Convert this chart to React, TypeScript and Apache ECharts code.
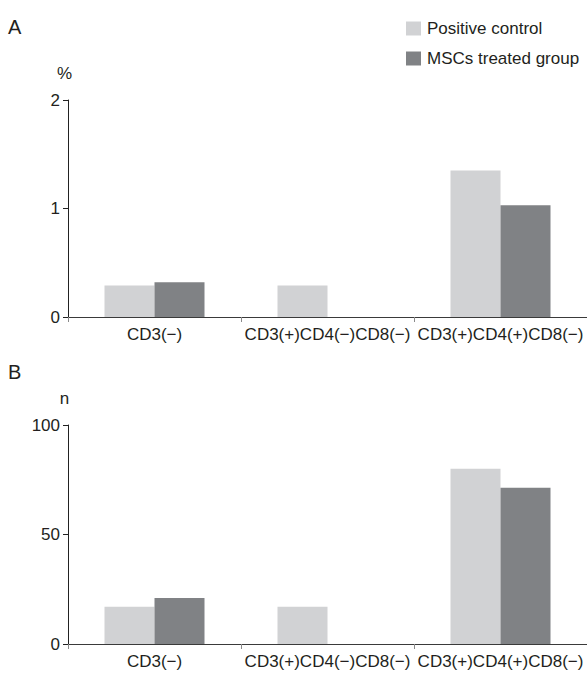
import React, { useEffect, useRef } from "react";
import * as echarts from "echarts";

const categories = ["CD3(−)", "CD3(+)CD4(−)CD8(−)", "CD3(+)CD4(+)CD8(−)"];
const seriesNames = ["Positive control", "MSCs treated group"];
const percentPositive = [0.29, 0.29, 1.35];
const percentMSCs = [0.32, 0, 1.03];
const countPositive = [17, 17, 80];
const countMSCs = [21, 0, 71.4];

const FONT = "Liberation Sans, Arial, Helvetica, sans-serif";
const TEXT = "#231f20";
const LIGHT = "#d1d2d4";
const DARK = "#808285";

export default function App() {
  const ref = useRef<HTMLDivElement>(null);
  useEffect(() => {
    document.body.style.margin = "0";
    if (!ref.current) return;
    const chart = echarts.init(ref.current, null, { renderer: "svg" });
    const xAxisBase = (gridIndex: number) => ({
      type: "category" as const,
      gridIndex,
      data: categories,
      boundaryGap: true,
      axisLine: { lineStyle: { color: "#3a3a3a", width: 1 } },
      axisTick: { show: true, length: 5, lineStyle: { color: "#8a8a8a" } },
      axisLabel: { color: TEXT, fontSize: 17, fontFamily: FONT, margin: 9, interval: 0 },
    });
    const yAxisBase = (gridIndex: number, max: number, interval: number, name: string) => ({
      type: "value" as const,
      gridIndex,
      min: 0,
      max,
      interval,
      name,
      nameLocation: "end" as const,
      nameGap: 18,
      nameTextStyle: { color: TEXT, fontSize: 17, fontFamily: FONT, padding: [0, 7, 0, 0] },
      axisLine: { show: true, lineStyle: { color: "#222", width: 1 } },
      axisTick: { show: true, length: 5, lineStyle: { color: "#222" } },
      axisLabel: { color: TEXT, fontSize: 17, fontFamily: FONT, margin: 8 },
      splitLine: { show: false },
    });
    const barBase = (name: string, color: string, xi: number, yi: number, data: number[]) => ({
      type: "bar" as const,
      name,
      xAxisIndex: xi,
      yAxisIndex: yi,
      data,
      barWidth: 50,
      barGap: "0%",
      itemStyle: { color },
    });
    chart.setOption({
      animation: false,
      textStyle: { fontFamily: FONT },
      grid: [
        { left: 68, top: 100, width: 521, height: 217 },
        { left: 68, top: 425, width: 521, height: 219 },
      ],
      legend: {
        orient: "vertical",
        left: 406,
        top: 20,
        padding: 0,
        itemWidth: 15,
        itemHeight: 14,
        itemGap: 13,
        icon: "rect",
        data: seriesNames,
        textStyle: { color: TEXT, fontSize: 17, fontFamily: FONT, padding: [0, 0, 0, 1] },
      },
      graphic: [
        { type: "text", left: 8, top: 17, style: { text: "A", fontSize: 20, fontFamily: FONT, fill: TEXT } },
        { type: "text", left: 8, top: 362, style: { text: "B", fontSize: 20, fontFamily: FONT, fill: TEXT } },
      ],
      xAxis: [xAxisBase(0), xAxisBase(1)],
      yAxis: [yAxisBase(0, 2, 1, "%"), yAxisBase(1, 100, 50, "n")],
      series: [
        barBase(seriesNames[0], LIGHT, 0, 0, percentPositive),
        barBase(seriesNames[1], DARK, 0, 0, percentMSCs),
        barBase(seriesNames[0], LIGHT, 1, 1, countPositive),
        barBase(seriesNames[1], DARK, 1, 1, countMSCs),
      ],
    });
    return () => chart.dispose();
  }, []);
  return <div ref={ref} style={{ width: 587, height: 680 }} />;
}
